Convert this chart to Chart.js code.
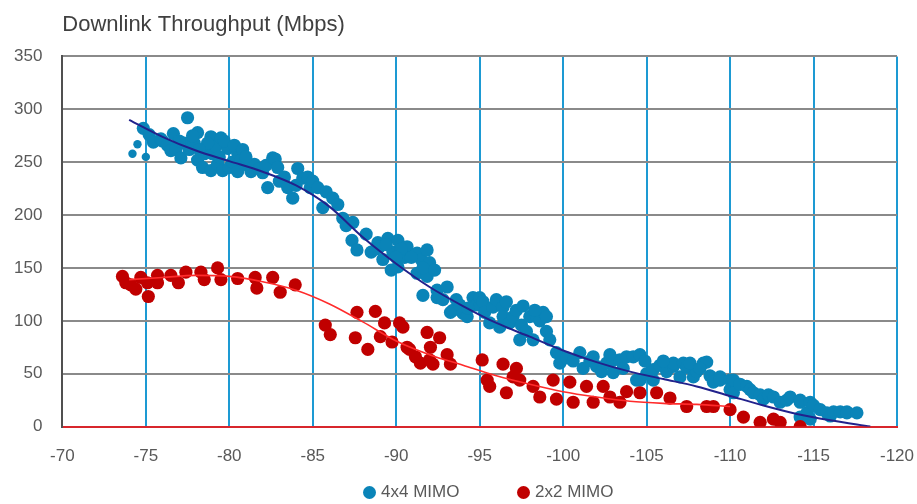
<!DOCTYPE html>
<html>
<head>
<meta charset="utf-8">
<script src="https://cdn.jsdelivr.net/npm/chart.js@4.4.1/dist/chart.umd.min.js"></script>
<style>
  html, body { margin: 0; padding: 0; background: #fff; }
  #wrap { position: relative; width: 917px; height: 504px; }
  #legend { position: absolute; left: 0; top: 482px; width: 917px; height: 20px;
            font: 17px "Liberation Sans", Arial, sans-serif; color: #595959; }
  .item { position: absolute; top: 0; height: 20px; line-height: 20px; display: flex; align-items: center; white-space: nowrap; }
  .dot { width: 13px; height: 13px; border-radius: 50%; margin-right: 5px; flex: none; }
</style>
</head>
<body>
<div id="wrap">
  <canvas id="c" width="917" height="504"></canvas>
  <div id="legend">
    <div class="item" style="left:363px"><span class="dot" style="background:#0a84b8"></span>4x4 MIMO</div>
    <div class="item" style="left:517px"><span class="dot" style="background:#c00000"></span>2x2 MIMO</div>
  </div>
</div>
<script>
// RSRP (dBm) and downlink throughput (Mbps) measurements

// 4x4 MIMO samples
const mimo4X = [
  -74.85, -75.2, -75.45, -75.9, -76.0, -76.3, -76.65, -76.5, -76.8, -77.1, -77.3, -77.5, -77.6,
  -77.9, -78.1, -78.1, -78.4, -78.5, -78.9, -78.9, -79.0, -79.2, -79.3, -79.5, -79.6, -79.9,
  -80.0, -80.2, -80.5, -80.5, -80.7, -80.9, -81.3, -81.5, -81.8, -82.0, -82.2, -82.3, -82.6,
  -82.75, -82.9, -83.0, -83.3, -83.5, -83.8, -84.0, -84.1, -84.4, -84.7, -84.85, -85.0, -85.3,
  -85.6, -85.8, -86.2, -86.5, -86.8, -87.0, -87.4, -87.35, -87.65, -88.2, -88.5, -88.9, -89.0,
  -89.2, -89.5, -89.8, -90.1, -90.1, -90.5, -90.65, -91.25, -91.25, -91.5, -91.85, -91.85, -92.0,
  -91.6, -92.45, -92.45, -92.8, -93.05, -93.25, -93.4, -93.8, -94.0, -94.25, -94.6, -94.8, -95.0,
  -95.2, -95.3, -95.6, -95.8, -96.0, -96.2, -96.4, -96.4, -96.8, -97.0, -97.2, -97.4, -97.5,
  -97.8, -98.0, -98.2, -98.4, -98.6, -98.8, -99.0, -99.2, -99.6, -99.8, -100.2, -100.6, -101.0,
  -101.2, -101.6, -102.0, -102.3, -102.6, -103.0, -103.0, -103.4, -103.6, -103.8, -104.2, -104.4,
  -104.6, -104.6, -105.0, -105.4, -105.4, -105.8, -106.2, -106.6, -106.6, -107.0, -107.2, -107.4,
  -107.8, -108.0, -108.4, -108.6, -108.8, -109.0, -109.4, -109.4, -110.0, -110.0, -110.2, -110.2,
  -110.6, -111.0, -111.2, -111.4, -111.8, -112.0, -112.3, -112.6, -113.0, -113.4, -113.6, -114.2,
  -114.2, -114.2, -114.6, -114.8, -114.8, -115.0, -115.4, -115.8, -116.0, -116.2, -116.6, -117.0,
  -117.0, -117.6,
  -77.0, -77.8, -78.7, -79.7, -80.3, -80.8, -81.0, -79.4, -78.2,
  -88.8, -89.4, -90.3, -90.9, -91.6, -90.0, -92.3, -89.7,
  -93.6, -94.3, -96.6, -97.6, -98.3, -99.0,
  -101.8, -102.8, -104.9, -106.0, -107.6, -108.2
];
const mimo4Y = [
  282, 276, 269, 272, 270, 266, 277, 261, 262, 254, 268, 292, 262,
  268, 278, 252, 245, 258, 274, 242, 258, 265, 248, 273, 242, 263,
  245, 250, 259, 241, 252, 248, 241, 248, 244, 240, 247, 226, 254,
  253, 245, 232, 236, 226, 216, 228, 244, 235, 236, 226, 232, 226,
  207, 222, 216, 210, 197, 190, 193, 176, 167, 182, 165, 174, 170,
  158, 178, 165, 176, 151, 160, 170, 164, 145, 158, 167, 142, 155,
  124, 129, 122, 120, 132, 108, 110, 115, 107, 104, 122, 115, 122,
  118, 108, 98, 113, 120, 94, 113, 104, 98, 104, 110, 82, 96,
  90, 104, 82, 104, 100, 108, 90, 82, 70, 60, 65, 62, 70,
  55, 62, 57, 52, 60, 63, 51, 63, 55, 66, 66, 44,
  68, 44, 50, 44, 54, 58, 52, 57, 60, 47, 60, 56,
  47, 52, 60, 61, 48, 42, 47, 44, 44, 35, 44, 32,
  40, 38, 35, 32, 30, 26, 30, 28, 23, 25, 28, 25,
  23, 9, 13, 23, 7, 20, 16, 13, 10, 14, 14, 14,
  13, 13,
  270, 275, 268, 270, 266, 262, 255, 255, 262,
  168, 172, 168, 160, 150, 160, 148, 148,
  120, 112, 118, 114, 110, 104,
  66, 68, 62, 62, 60, 55
];
// 4x4 MIMO low-rate samples (smaller markers)
const mimo4SmallX = [-74.2, -74.5, -75.0];
const mimo4SmallY = [258, 267, 255];

// 2x2 MIMO samples
const mimo2X = [
  -73.6, -73.8, -74.1, -74.4, -74.7, -75.15, -75.1, -75.7, -75.7, -76.5, -76.95, -77.4, -78.3,
  -78.5, -79.3, -79.5, -80.5, -81.55, -81.65, -82.6, -83.05, -83.95, -85.75, -86.05, -87.65,
  -88.75, -87.55, -88.3, -89.3, -90.2, -89.05, -89.75, -90.65, -91.15, -91.85, -92.6, -92.05,
  -92.2, -93.05, -93.25, -91.45, -90.4, -90.8, -92.0, -95.15, -95.45, -96.4, -97.0, -97.2,
  -95.6, -96.6, -97.4, -98.2, -98.6, -99.4, -99.6, -100.4, -100.6, -101.4, -101.8, -102.4,
  -102.8, -103.4, -103.8, -104.6, -105.6, -106.4, -107.4, -108.6, -109.0, -110.0, -110.8,
  -111.8, -112.6, -113.0, -114.2
];
const mimo2Y = [
  142, 136, 134, 130, 141, 123, 136, 143, 136, 143, 136, 146, 146,
  139, 150, 139, 140, 141, 131, 141, 127, 134, 96, 87, 108,
  109, 84, 73, 98, 98, 85, 80, 75, 66, 89, 84, 75,
  59, 68, 59, 60, 94, 73, 63, 63, 44, 59, 47, 55,
  38, 32, 44, 38, 28, 44, 26, 42, 23, 38, 23, 38,
  28, 23, 33, 32, 32, 27, 19, 19, 19, 16, 9,
  4, 7, 4, 0
];

// Polynomial trend lines
const trend4X = [-74, -76, -78, -80, -82, -84, -86, -88, -90, -92, -94, -96, -98, -100, -102, -104, -106, -108, -110, -112, -114, -116, -118.4];
const trend4Y = [290, 274, 261, 251, 241, 228, 208, 179, 154, 132, 114, 98, 85, 72, 61, 52, 45, 38, 29, 20, 12, 6, 0];
const trend2X = [-74, -76, -78, -80, -82, -84, -86, -88, -90, -92, -94, -96, -98, -100, -102, -104, -106, -108, -110];
const trend2Y = [139, 141, 143, 142, 137, 129, 116, 99, 81, 68, 58, 48, 40, 33, 28, 24, 22, 21, 19];

// Axis ticks
const xTicks = [-70, -75, -80, -85, -90, -95, -100, -105, -110, -115, -120];
const yTicks = [0, 50, 100, 150, 200, 250, 300, 350];

const pts = (xs, ys) => xs.map((x, i) => ({ x, y: ys[i] }));

const BLUE = '#0a84b8';
const RED = '#c00000';
const FONT = { family: '"Liberation Sans", Arial, sans-serif', size: 17 };

new Chart(document.getElementById('c'), {
  type: 'scatter',
  data: {
    datasets: [
      { label: '4x4 MIMO', data: pts(mimo4X, mimo4Y), backgroundColor: BLUE, borderWidth: 0,
        pointRadius: 6.6, order: 4 },
      { label: '4x4 MIMO small', data: pts(mimo4SmallX, mimo4SmallY), backgroundColor: BLUE, borderWidth: 0,
        pointRadius: 4.2, order: 5 },
      { label: '2x2 MIMO', data: pts(mimo2X, mimo2Y), backgroundColor: RED, borderWidth: 0,
        pointRadius: 6.6, order: 3 },
      { label: '4x4 trend', data: pts(trend4X, trend4Y), showLine: true, borderColor: '#22228c',
        borderWidth: 2, pointRadius: 0, cubicInterpolationMode: 'monotone', order: 1 },
      { label: '2x2 trend', data: pts(trend2X, trend2Y), showLine: true, borderColor: '#ff2b2b',
        borderWidth: 1.6, pointRadius: 0, cubicInterpolationMode: 'monotone', order: 0 }
    ]
  },
  options: {
    responsive: false,
    devicePixelRatio: 1,
    animation: false,
    events: [],
    layout: { padding: { left: -6, right: 20, top: 0, bottom: 17 } },
    plugins: {
      legend: { display: false },
      tooltip: { enabled: false },
      title: {
        display: true,
        text: 'Downlink Throughput (Mbps)',
        align: 'start',
        fullSize: false,
        color: '#404040',
        font: { family: '"Liberation Sans", Arial, sans-serif', size: 22, weight: 'normal' },
        padding: { top: 12, bottom: 18 }
      }
    },
    scales: {
      x: {
        type: 'linear',
        min: Math.min(...xTicks),
        max: Math.max(...xTicks),
        reverse: true,
        afterBuildTicks: s => { s.ticks = xTicks.map(v => ({ value: v })); },
        // end labels may overhang; the layout padding keeps room for them
        afterFit: s => { s.paddingLeft = 0; s.paddingRight = 0; },
        ticks: { color: '#595959', font: FONT, padding: 20, maxRotation: 0, autoSkip: false },
        grid: {
          color: c => (c.tick && c.tick.value === -70) ? '#505050' : '#1d9ad3',
          lineWidth: 2,
          drawTicks: false
        },
        border: { color: '#d8262c', width: 2 }
      },
      y: {
        min: 0,
        max: 350,
        afterBuildTicks: s => { s.ticks = yTicks.map(v => ({ value: v })); },
        ticks: { color: '#595959', font: FONT, padding: 20 },
        grid: {
          color: c => (c.tick && c.tick.value === 0) ? '#d8262c' : '#8a8a8a',
          lineWidth: 2,
          drawTicks: false
        },
        border: { color: '#505050', width: 2 }
      }
    }
  }
});
</script>
</body>
</html>
